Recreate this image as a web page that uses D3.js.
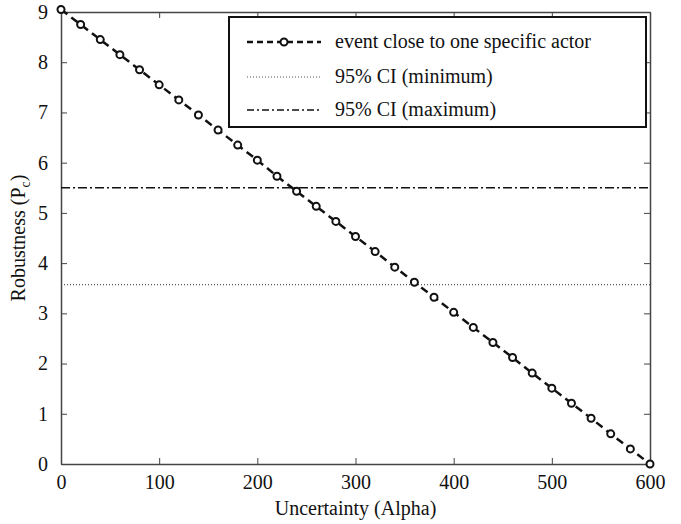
<!DOCTYPE html>
<html>
<head>
<meta charset="utf-8">
<script src="https://cdn.jsdelivr.net/npm/d3@7"></script>
</head>
<body style="margin:0">
<script>
// data
const alpha = [0, 20, 40, 60, 80, 100, 120, 140, 160, 180, 200, 220, 240, 260, 280, 300,
  320, 340, 360, 380, 400, 420, 440, 460, 480, 500, 520, 540, 560, 580, 600];
const robustness = [9.05, 8.75, 8.45, 8.15, 7.85, 7.55, 7.25, 6.95, 6.65, 6.35, 6.05, 5.73,
  5.43, 5.13, 4.83, 4.53, 4.23, 3.92, 3.62, 3.32, 3.02, 2.72, 2.42, 2.12, 1.81, 1.51,
  1.21, 0.91, 0.6, 0.3, 0];
const ciMin = 3.57;
const ciMax = 5.5;
const xTicks = [0, 100, 200, 300, 400, 500, 600];
const yTicks = [0, 1, 2, 3, 4, 5, 6, 7, 8, 9];
const legendLabels = ["event close to one specific actor", "95% CI (minimum)", "95% CI (maximum)"];

const W = 681, H = 524;
const margin = { top: 12, right: 31, bottom: 60, left: 61 };
const width = W - margin.left - margin.right;
const height = H - margin.top - margin.bottom;
const fontSize = 20;
const serif = '"Liberation Serif"';

const svg = d3.select("body").append("svg")
  .attr("width", W)
  .attr("height", H);

const g = svg.append("g")
  .attr("transform", `translate(${margin.left},${margin.top})`);

const x = d3.scaleLinear().domain([0, 600]).range([0, width]);
const y = d3.scaleLinear().domain([0, 9]).range([height, 0]);

const axisColor = "#444";

// axes, with inward ticks, mirrored on top and right
const axBottom = g.append("g")
  .attr("transform", `translate(0,${height})`)
  .call(d3.axisBottom(x).tickValues(xTicks).tickSizeInner(-6).tickSizeOuter(0).tickPadding(11));
const axLeft = g.append("g")
  .call(d3.axisLeft(y).tickValues(yTicks).tickSizeInner(-6).tickSizeOuter(0).tickPadding(13));
const axTop = g.append("g")
  .call(d3.axisTop(x).tickValues(xTicks).tickSizeInner(-6).tickSizeOuter(0).tickFormat(""));
const axRight = g.append("g")
  .attr("transform", `translate(${width},0)`)
  .call(d3.axisRight(y).tickValues(yTicks).tickSizeInner(-6).tickSizeOuter(0).tickFormat(""));

[axBottom, axLeft, axTop, axRight].forEach(a => {
  a.attr("font-family", null).attr("font-size", null);
  a.select(".domain").attr("stroke", axisColor).attr("stroke-width", 1.5);
  a.selectAll(".tick line").attr("stroke", axisColor).attr("stroke-width", 1);
  a.selectAll(".tick text")
    .style("font-family", serif)
    .attr("font-size", fontSize)
    .attr("fill", "#111");
});

// CI lines
g.append("line")
  .attr("x1", x(0)).attr("x2", x(600))
  .attr("y1", y(ciMin)).attr("y2", y(ciMin))
  .attr("stroke", "#555").attr("stroke-width", 1.2)
  .attr("stroke-dasharray", "1,2");

g.append("line")
  .attr("x1", x(0)).attr("x2", x(600))
  .attr("y1", y(ciMax)).attr("y2", y(ciMax))
  .attr("stroke", "#111").attr("stroke-width", 1.5)
  .attr("stroke-dasharray", "9,3,2,3");

// main series
const data = alpha.map((a, i) => ({ a, r: robustness[i] }));
const line = d3.line().x(d => x(d.a)).y(d => y(d.r));

g.append("path")
  .datum(data)
  .attr("fill", "none")
  .attr("stroke", "#111")
  .attr("stroke-width", 2.5)
  .attr("stroke-dasharray", "8,5")
  .attr("d", line);

g.selectAll(".pt")
  .data(data)
  .enter().append("circle")
  .attr("class", "pt")
  .attr("cx", d => x(d.a))
  .attr("cy", d => y(d.r))
  .attr("r", 3.5)
  .attr("fill", "#fff")
  .attr("stroke", "#111")
  .attr("stroke-width", 2);

// legend
const lg = svg.append("g").attr("transform", "translate(229,17)");
lg.append("rect")
  .attr("width", 417).attr("height", 110)
  .attr("fill", "#fff").attr("stroke", "#111").attr("stroke-width", 2);

const rowsY = [25, 60, 93];
const styles = [
  { stroke: "#111", w: 2.5, dash: "6,4" },
  { stroke: "#555", w: 1.2, dash: "1,2" },
  { stroke: "#111", w: 1.5, dash: "7,3,2,3" }
];
legendLabels.forEach((lab, i) => {
  const row = lg.append("g").attr("transform", `translate(0,${rowsY[i]})`);
  row.append("line")
    .attr("x1", 18).attr("x2", 92)
    .attr("stroke", styles[i].stroke)
    .attr("stroke-width", styles[i].w)
    .attr("stroke-dasharray", styles[i].dash);
  if (i === 0) {
    row.append("circle").attr("cx", 55).attr("cy", 0).attr("r", 3.5)
      .attr("fill", "#fff").attr("stroke", "#111").attr("stroke-width", 2);
  }
  row.append("text")
    .attr("x", 106).attr("y", 6)
    .style("font-family", serif)
    .attr("font-size", fontSize)
    .attr("fill", "#111")
    .text(lab);
});

// axis titles
svg.append("text")
  .attr("x", margin.left + width / 2)
  .attr("y", 515)
  .attr("text-anchor", "middle")
  .style("font-family", serif)
  .attr("font-size", fontSize)
  .attr("fill", "#111")
  .text("Uncertainty (Alpha)");

const yl = svg.append("text")
  .attr("transform", `translate(25,${margin.top + height / 2}) rotate(-90)`)
  .attr("text-anchor", "middle")
  .style("font-family", serif)
  .attr("font-size", fontSize)
  .attr("fill", "#111");
yl.append("tspan").text("Robustness (P");
yl.append("tspan").attr("font-size", 14).attr("dy", 5).text("c");
yl.append("tspan").attr("dy", -5).text(")");
</script>
</body>
</html>
